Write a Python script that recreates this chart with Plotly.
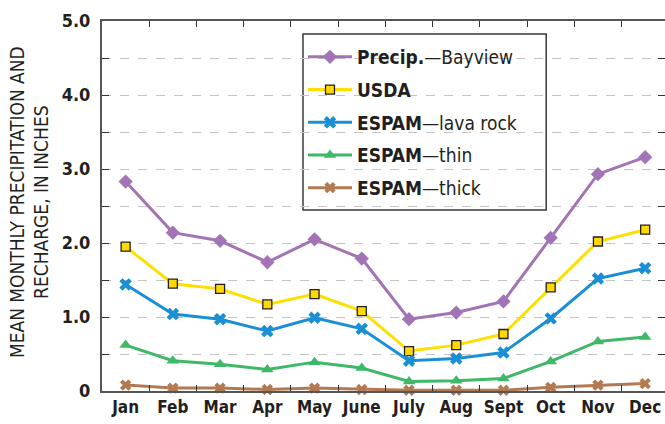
import plotly.graph_objects as go

# Monthly values, inches
months = ["Jan", "Feb", "Mar", "Apr", "May", "June", "July", "Aug", "Sept", "Oct", "Nov", "Dec"]
precip_bayview = [2.83, 2.14, 2.03, 1.74, 2.05, 1.79, 0.97, 1.06, 1.21, 2.07, 2.93, 3.16]
usda = [1.95, 1.45, 1.38, 1.17, 1.31, 1.08, 0.54, 0.62, 0.77, 1.40, 2.02, 2.18]
espam_lava = [1.44, 1.04, 0.97, 0.81, 0.99, 0.84, 0.41, 0.44, 0.52, 0.98, 1.52, 1.66]
espam_thin = [0.62, 0.41, 0.36, 0.29, 0.39, 0.31, 0.13, 0.14, 0.17, 0.40, 0.67, 0.73]
espam_thick = [0.08, 0.04, 0.04, 0.02, 0.04, 0.02, 0.01, 0.01, 0.01, 0.05, 0.08, 0.10]

y_tickvals = [0, 0.5, 1, 1.5, 2, 2.5, 3, 3.5, 4, 4.5, 5]
y_ticktext = ["0", "", "1.0", "", "2.0", "", "3.0", "", "4.0", "", "5.0"]

FONT = "DejaVu Sans Condensed, Roboto Condensed, Roboto, sans-serif"
INK = "#231f20"

series = [
    ("<b>Precip.</b>—Bayview", precip_bayview, "#a274b6",
     dict(symbol="diamond", size=11, color="#a274b6")),
    ("<b>USDA</b>", usda, "#ffdf00",
     dict(symbol="square", size=9, color="#ffd800", line=dict(color="#231f20", width=1.3))),
    ("<b>ESPAM</b>—lava rock", espam_lava, "#1b8fd6",
     dict(symbol="x", size=11, color="#1b8fd6")),
    ("<b>ESPAM</b>—thin", espam_thin, "#3fb868",
     dict(symbol="triangle-up", size=11, color="#3fb868")),
    ("<b>ESPAM</b>—thick", espam_thick, "#b27a52",
     dict(symbol="x", size=10, color="#b27a52")),
]

fig = go.Figure()
for i, (name, vals, col, mk) in enumerate(series):
    fig.add_trace(go.Scatter(
        x=months, y=vals, name=name, mode="lines+markers",
        line=dict(color=col, width=3), marker=mk, cliponaxis=False,
        legendgroup=f"g{i}",
    ))

# Framed box behind the legend entries (hides the grid inside it)
fig.add_shape(
    type="rect", xref="paper", yref="paper",
    x0=0.357, x1=0.789, y0=0.489, y1=0.965,
    line=dict(color="#3a3a3a", width=1.5), fillcolor="white", layer="between",
)

fig.update_layout(
    width=665, height=424,
    margin=dict(l=102, r=0, t=21, b=33),
    paper_bgcolor="white", plot_bgcolor="white",
    font=dict(family=FONT, color=INK),
    showlegend=True,
    legend=dict(
        x=0.357, y=0.954, xanchor="left", yanchor="top",
        borderwidth=0, bgcolor="rgba(0,0,0,0)",
        font=dict(family=FONT, size=19, color=INK),
        tracegroupgap=5, itemwidth=44,
        traceorder="grouped",
    ),
    xaxis=dict(
        type="category", range=[-0.5, 11.42],
        tickson="boundaries", ticks="inside", ticklen=6, tickwidth=1.2, tickcolor="#333",
        showline=True, linecolor="#555", linewidth=2, mirror="ticks",
        showgrid=False, zeroline=False, tickangle=0, automargin=False,
        tickfont=dict(family=FONT, size=17, color=INK, weight="bold"),
    ),
    yaxis=dict(
        range=[0, 5], tickvals=y_tickvals, ticktext=y_ticktext,
        ticks="inside", ticklen=7, tickwidth=1.2, tickcolor="#333",
        showline=True, linecolor="#555", linewidth=2, mirror="ticks",
        showgrid=True, gridcolor="#c4c4c4", gridwidth=1, griddash="dash",
        zeroline=False, ticklabelstandoff=6, automargin=False,
        tickfont=dict(family=FONT, size=18, color=INK, weight="bold"),
    ),
    annotations=[dict(
        text="MEAN MONTHLY PRECIPITATION AND<br>RECHARGE, IN INCHES",
        xref="paper", yref="paper", x=-0.13, y=0.51,
        xanchor="center", yanchor="middle", textangle=-90, showarrow=False,
        font=dict(family=FONT, size=19, color=INK, weight=500),
    )],
)

fig.write_html("out.html")
